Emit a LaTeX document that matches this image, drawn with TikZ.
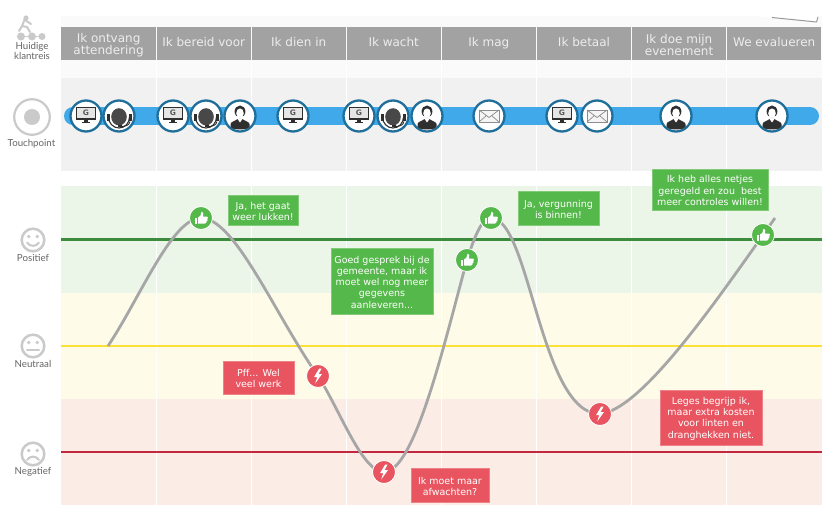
\documentclass[tikz,border=0pt]{standalone}
\usepackage{fontspec}
\setmainfont{DejaVu Sans}
\newfontfamily\sidefont{Lato}
\definecolor{hdr}{HTML}{A2A2A2}
\definecolor{panel}{HTML}{F1F1F1}
\definecolor{pale}{HTML}{FAFAFA}
\definecolor{barblue}{HTML}{3FA9EA}
\definecolor{ringblue}{HTML}{1F6F9A}
\definecolor{okgreen}{HTML}{55B84B}
\definecolor{badred}{HTML}{E85561}
\definecolor{bandg}{HTML}{EBF5E8}
\definecolor{bandy}{HTML}{FEFBE8}
\definecolor{bandr}{HTML}{FBECE6}
\definecolor{lineg}{HTML}{3D8B3D}
\definecolor{liney}{HTML}{FBE035}
\definecolor{liner}{HTML}{C0283F}
\definecolor{curvegray}{HTML}{A6A6A6}
\definecolor{iconink}{HTML}{2F2F2F}
\definecolor{sidegray}{HTML}{CACACA}
\definecolor{sidetext}{HTML}{666666}
\newcommand{\hone}{\rule[-3pt]{0pt}{11pt}}
\newcommand{\htwo}{\rule{0pt}{12pt}}
\newcommand{\cfirst}{\rule{0pt}{9.5pt}}
\tikzset{
  x=1pt,y=-1pt,
  hdrbox/.style={fill=hdr,text=white!93!black,inner sep=0pt,anchor=center,minimum width=93.6pt,minimum height=33pt,align=center,font=\fontsize{12}{12.2}\selectfont},
  sidelabel/.style={text=sidetext,inner sep=0pt,align=center,font=\sidefont\fontsize{9.7}{10}\selectfont},
  callg/.style={fill=okgreen,draw=okgreen!75!white,line width=.5pt,text=white,inner sep=0pt,align=center,font=\fontsize{9.5}{11.3}\selectfont},
  callr/.style={fill=badred,draw=badred!75!white,line width=.5pt,text=white,inner sep=0pt,align=center,font=\fontsize{9.5}{11.3}\selectfont},
  markg/.style={circle,fill=okgreen,draw=white,line width=.8pt,minimum size=23pt,inner sep=0pt},
  markr/.style={circle,fill=badred,draw=white,line width=.8pt,minimum size=23pt,inner sep=0pt},
  ringnode/.style={circle,fill=white,draw=ringblue,line width=2.3pt,minimum size=31pt,inner sep=0pt},
  thumbpic/.pic={
    \fill[white] (-6.5,-.5) rectangle (-3.6,5.5);
    \fill[white] (-2.8,-.5) -- (-.5,-2.5) -- (.6,-6.5) .. controls (2.6,-6.5) and (2.6,-3.5) .. (2,-1.5) -- (6,-1.5) .. controls (7.2,-1.5) and (7.2,.5) .. (6.4,.8) .. controls (7,1.8) and (6.4,3) .. (5.6,3.2) .. controls (5.8,4.4) and (5,5.5) .. (4,5.5) -- (-2.8,5.5) -- cycle;
  },
  boltpic/.pic={
    \fill[white] (1.2,-7.5) -- (-4,1.2) -- (-.8,1.2) -- (-2.8,7.5) -- (4,-2) -- (.6,-2) -- (3.6,-7.5) -- cycle;
  },
  gpic/.pic={
    \fill[white!90!black] (-9.5,-8) rectangle (9.5,3.5);
    \draw[iconink,line width=1pt] (-9.5,-8) rectangle (9.5,3.5);
    \fill[iconink] (-9.5,2) rectangle (9.5,3.8);
    \fill[iconink] (-2,3.8) rectangle (2,6);
    \fill[iconink] (-4,6) rectangle (4,7);
    \node[inner sep=0pt,text=iconink!80!white,font=\bfseries\fontsize{7.5}{7.5}\selectfont] (-gl) at (0,-3) {G};
  },
  headpic/.pic={
    \fill[iconink!88!white] (0,.8) ellipse[x radius=7.8,y radius=8.6];
    \draw[iconink,line width=1.1pt] (-10.5,1) arc[start angle=180,end angle=360,x radius=10.5,y radius=-11];
    \fill[iconink] (-12.5,-1.5) rectangle (-9.5,5.5);
    \fill[iconink] (9.5,-1.5) rectangle (12.5,5.5);
    \draw[iconink,line width=.9pt] (11,5.5) .. controls (10.5,9.5) and (6,10.5) .. (2,10.5);
    \fill[iconink] (-1.5,9.5) rectangle (3,11.5);
  },
  personpic/.pic={
    \fill[iconink] (-9.5,12) -- (-9.5,8) .. controls (-9,5.5) and (-4.5,5) .. (-2.5,3) -- (2.5,3) .. controls (4.5,5) and (9,5.5) .. (9.5,8) -- (9.5,12) .. controls (4,14) and (-4,14) .. (-9.5,12) -- cycle;
    \fill[white] (-2.8,2.5) -- (2.8,2.5) -- (0,6.5) -- cycle;
    \fill[iconink] (0,-4.5) ellipse[x radius=5.4,y radius=6];
    \fill[white] (0,-2.8) ellipse[x radius=3.8,y radius=4.8];
  },
  mailpic/.pic={
    \draw[line width=.8pt,draw=black!45,fill=white!96!black] (-10,-6) rectangle (10,6);
    \draw[line width=.7pt,draw=black!45] (-10,-6) -- (0,1.5) -- (10,-6) (-10,6) -- (-2.5,-.5) (10,6) -- (2.5,-.5);
  },
  happypic/.pic={
    \draw[sidegray,line width=2.5pt] (0,0) circle[radius=11.3];
    \fill[sidegray] (-4.2,-3.5) circle[radius=1.9] (4.2,-3.5) circle[radius=1.9];
    \draw[sidegray,line width=2pt,line cap=round] (-6,2.5) .. controls (-3,7) and (3,7) .. (6,2.5);
  },
  neutralpic/.pic={
    \draw[sidegray,line width=2.5pt] (0,0) circle[radius=11.3];
    \fill[sidegray] (-4.2,-3.5) circle[radius=1.9] (4.2,-3.5) circle[radius=1.9];
    \draw[sidegray,line width=2pt,line cap=round] (-6,3.5) -- (6,3.5);
  },
  sadpic/.pic={
    \draw[sidegray,line width=2.5pt] (0,0) circle[radius=11.3];
    \fill[sidegray] (-4.2,-3.5) circle[radius=1.9] (4.2,-3.5) circle[radius=1.9];
    \draw[sidegray,line width=2pt,line cap=round] (-6,6) .. controls (-3,1.5) and (3,1.5) .. (6,6);
  },
}
\newcommand{\tpicon}[3]{%
  \node[ringnode] (#1) at (#2,116) {};
  \begin{scope}
    \clip (#2,116) circle[radius=14.5];
    \pic at (#2,116) {#3};
  \end{scope}
}
\begin{document}
\begin{tikzpicture}
\useasboundingbox (0,0) rectangle (833,516);
\fill[white] (0,0) rectangle (833,516);
% top pale band, folded sheet corner
\fill[pale] (61,16) rectangle (821.7,78);
\fill[white] (753,16) -- (816.5,22) -- (818,16) -- cycle;
\draw[black!40,line width=1pt,line join=round] (772,17.5) -- (816.5,22) -- (818,17);
% touchpoint panel
\fill[panel] (61,78) rectangle (821.7,171);
% chart bands
\fill[bandg] (61,186) rectangle (821.7,293);
\fill[bandy] (61,293) rectangle (821.7,399);
\fill[bandr] (61,399) rectangle (821.7,505);
% column separators
\foreach \cx in {156.3,251.2,346.2,441.2,536.5,631.5,726.7}{
  \draw[white,line width=.9pt] (\cx,60) -- (\cx,171);
  \draw[white,line width=.9pt] (\cx,186) -- (\cx,505);
}
% headers
\node[hdrbox,minimum width=94.4pt] (h1) at (108.6,43.5) {\htwo Ik ontvang\\attendering};
\node[hdrbox] (h2) at (203.7,43.5) {\hone Ik bereid voor};
\node[hdrbox] (h3) at (298.7,43.5) {\hone Ik dien in};
\node[hdrbox] (h4) at (393.7,43.5) {\hone Ik wacht};
\node[hdrbox] (h5) at (488.8,43.5) {\hone Ik mag};
\node[hdrbox] (h6) at (584,43.5) {\hone Ik betaal};
\node[hdrbox] (h7) at (679.1,43.5) {\htwo Ik doe mijn\\evenement};
\node[hdrbox] (h8) at (774.2,43.5) {\hone We evalueren};
% blue touchpoint bar
\coordinate (barL) at (73,116);
\coordinate (barR) at (810,116);
\draw[barblue,line width=18pt,line cap=round] (barL) -- (barR);
\tpicon{t1}{86}{gpic}
\tpicon{t2}{119}{headpic}
\tpicon{t3}{173}{gpic}
\tpicon{t4}{206}{headpic}
\tpicon{t5}{240}{personpic}
\tpicon{t6}{293}{gpic}
\tpicon{t7}{359}{gpic}
\tpicon{t8}{393}{headpic}
\tpicon{t9}{427}{personpic}
\tpicon{t10}{489}{mailpic}
\tpicon{t11}{562}{gpic}
\tpicon{t12}{597}{mailpic}
\tpicon{t13}{676}{personpic}
\tpicon{t14}{772}{personpic}
% level lines
\coordinate (gl) at (61,239.5); \coordinate (gr) at (821.7,239.5);
\coordinate (yl) at (61,345.7); \coordinate (yr) at (821.7,345.7);
\coordinate (rl) at (61,452); \coordinate (rr) at (821.7,452);
\draw[lineg,line width=2.2pt] (gl) -- (gr);
\draw[liney,line width=2.2pt] (yl) -- (yr);
\draw[liner,line width=2.2pt] (rl) -- (rr);
% markers
\coordinate (cstart) at (108,346);
\coordinate (cend) at (775,218);
\coordinate (m1) at (201,218);
\coordinate (m2) at (318,376);
\coordinate (m3) at (384,472);
\coordinate (m4) at (467,260);
\coordinate (m5) at (491,218);
\coordinate (m6) at (600,414);
\coordinate (m7) at (763,235);
% emotion curve
\draw[curvegray,line width=2.8pt]
  (cstart) .. controls (140,298) and (172,218) .. (m1)
  .. controls (235,218) and (275,315) .. (m2)
  .. controls (340,410) and (362,472) .. (m3)
  .. controls (415,472) and (445,340) .. (m4)
  .. controls (475,235) and (482,218) .. (m5)
  .. controls (530,218) and (540,414) .. (m6)
  .. controls (640,410) and (710,310) .. (m7)
  -- (cend);
\node[markg] (n1) at (m1) {}; \pic at (m1) {thumbpic};
\node[markr] (n2) at (m2) {}; \pic at (m2) {boltpic};
\node[markr] (n3) at (m3) {}; \pic at (m3) {boltpic};
\node[markg] (n4) at (m4) {}; \pic at (m4) {thumbpic};
\node[markg] (n5) at (m5) {}; \pic at (m5) {thumbpic};
\node[markr] (n6) at (m6) {}; \pic at (m6) {boltpic};
\node[markg] (n7) at (m7) {}; \pic at (m7) {thumbpic};
% callouts
\node[callg,minimum width=70pt,minimum height=30pt] (c1) at (263,210) {\cfirst Ja, het gaat\\weer lukken!};
\node[callg,minimum width=102pt,minimum height=66pt] (c2) at (382,281) {\cfirst Goed gesprek bij de\\gemeente, maar ik\\moet wel nog meer\\gegevens\\aanleveren...};
\node[callr,minimum width=71pt,minimum height=33pt] (c3) at (258.5,377.5) {\cfirst Pff... Wel\\veel werk};
\node[callr,minimum width=78pt,minimum height=34pt] (c4) at (450,485) {\cfirst Ik moet maar\\afwachten?};
\node[callg,minimum width=81pt,minimum height=34pt] (c5) at (558.5,208) {\cfirst Ja, vergunning\\is binnen!};
\node[callg,minimum width=116pt,minimum height=41pt] (c6) at (710,189.5) {\cfirst Ik heb alles netjes\\geregeld en zou\ \ best\\meer controles willen!};
\node[callr,minimum width=102pt,minimum height=55pt] (c7) at (711,417.5) {\cfirst Leges begrijp ik,\\maar extra kosten\\voor linten en\\dranghekken niet.};
% side: journey
\draw[sidegray,line width=2pt,line cap=round,line join=round]
  (25,18.5) -- (22,26) -- (19,31) (22,26) -- (27,27) -- (30,32) (25,20) -- (31,24);
\fill[sidegray] (26,18) circle[radius=2.6];
\draw[sidegray,line width=1.5pt] (21,36.5) -- (42,36.5);
\fill[sidegray] (21,36.5) circle[radius=4] (32,36.5) circle[radius=4] (42,36.5) circle[radius=3.5];
\node[sidelabel] (lj) at (32,51) {Huidige\\klantreis};
% side: touchpoint
\draw[sidegray,line width=2.2pt] (32,117) circle[radius=17.8];
\fill[sidegray] (32,117) circle[radius=8];
\node[sidelabel] (lt) at (31.5,143.5) {Touchpoint};
% side: moods
\pic at (33,240) {happypic};
\node[sidelabel] (lp) at (33,258) {Positief};
\pic at (33,346) {neutralpic};
\node[sidelabel] (ln) at (33,364) {Neutraal};
\pic at (33,454) {sadpic};
\node[sidelabel] (lnn) at (33,472) {Negatief};
\end{tikzpicture}
\end{document}
